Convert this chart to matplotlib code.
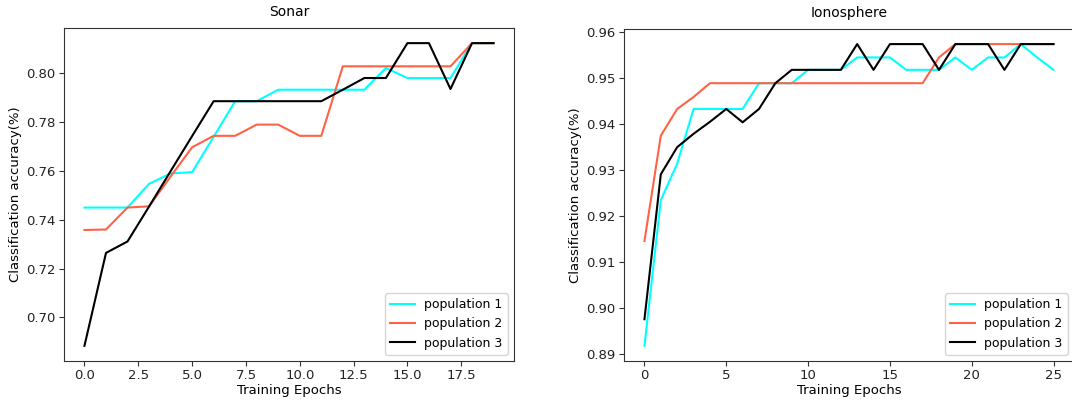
import numpy as np
import matplotlib
matplotlib.use('Agg')
import matplotlib.pyplot as plt

# sonar curves (epochs 0..19)
sonar_pop1 = [0.745, 0.745, 0.745, 0.7547, 0.759, 0.7595, 0.774, 0.7886, 0.7886, 0.7933,
              0.7933, 0.7933, 0.7933, 0.7933, 0.8022, 0.7981, 0.7981, 0.7981, 0.8124, 0.8124]
sonar_pop2 = [0.7358, 0.736, 0.745, 0.7455, 0.7577, 0.7697, 0.7744, 0.7744, 0.779, 0.779,
              0.7744, 0.7744, 0.8029, 0.8029, 0.8029, 0.8029, 0.8029, 0.8029, 0.8124, 0.8124]
sonar_pop3 = [0.6883, 0.7264, 0.7311, 0.7454, 0.7599, 0.7743, 0.7886, 0.7886, 0.7886, 0.7886,
              0.7886, 0.7886, 0.7933, 0.7981, 0.7981, 0.8124, 0.8124, 0.7936, 0.8124, 0.8124]

# ionosphere curves (epochs 0..25)
iono_pop1 = [0.8918, 0.9235, 0.9314, 0.9433, 0.9433, 0.9433, 0.9433, 0.9489, 0.9489, 0.9489,
             0.9518, 0.9518, 0.9518, 0.9545, 0.9545, 0.9545, 0.9518, 0.9518, 0.9518, 0.9545,
             0.9518, 0.9545, 0.9545, 0.9574, 0.9545, 0.9518]
iono_pop2 = [0.9146, 0.9375, 0.9433, 0.9459, 0.9489, 0.9489, 0.9489, 0.9489, 0.9489, 0.9489,
             0.9489, 0.9489, 0.9489, 0.9489, 0.9489, 0.9489, 0.9489, 0.9489, 0.9545, 0.9574,
             0.9574, 0.9574, 0.9574, 0.9574, 0.9574, 0.9574]
iono_pop3 = [0.8976, 0.9291, 0.935, 0.9379, 0.9405, 0.9433, 0.9404, 0.9433, 0.9489, 0.9518,
             0.9518, 0.9518, 0.9518, 0.9574, 0.9518, 0.9574, 0.9574, 0.9574, 0.9518, 0.9574,
             0.9574, 0.9574, 0.9518, 0.9574, 0.9574, 0.9574]

labels = ['population 1', 'population 2', 'population 3']
colors = ['aqua', 'tomato', 'black']

plt.rcParams['font.size'] = 9.5
plt.rcParams['xtick.major.pad'] = 2.5
plt.rcParams['ytick.major.pad'] = 2.5
plt.rcParams['axes.edgecolor'] = '#333333'
fig = plt.figure(figsize=(10.72, 4.01), dpi=100)
W, H = 1072., 401.
ax1 = fig.add_axes([64 / W, 1 - 361 / H, 450 / W, 333 / H])
ax2 = fig.add_axes([624 / W, 1 - 361 / H, 450 / W, 332 / H])

for ax, series, title in [(ax1, [sonar_pop1, sonar_pop2, sonar_pop3], 'Sonar'),
                          (ax2, [iono_pop1, iono_pop2, iono_pop3], 'Ionosphere')]:
    for s, c, lab in zip(series, colors, labels):
        ax.plot(np.arange(len(s)), s, color=c, label=lab, lw=1.5)
    ax.set_title(title, fontsize=10, pad=9)
    ax.set_xlabel('Training Epochs', labelpad=1)
    ax.set_ylabel('Classification accuracy(%)', labelpad=3)
    ax.legend(loc='lower right', fontsize=9, handlelength=2.0)
    ax.tick_params(colors='#333333', labelcolor='#222222')

ax1.set_yticks([0.70, 0.72, 0.74, 0.76, 0.78, 0.80])
ax2.set_yticks([0.89, 0.90, 0.91, 0.92, 0.93, 0.94, 0.95, 0.96])
ax2.set_xticks([0, 5, 10, 15, 20, 25])

fig.savefig('out.png', dpi=100)
